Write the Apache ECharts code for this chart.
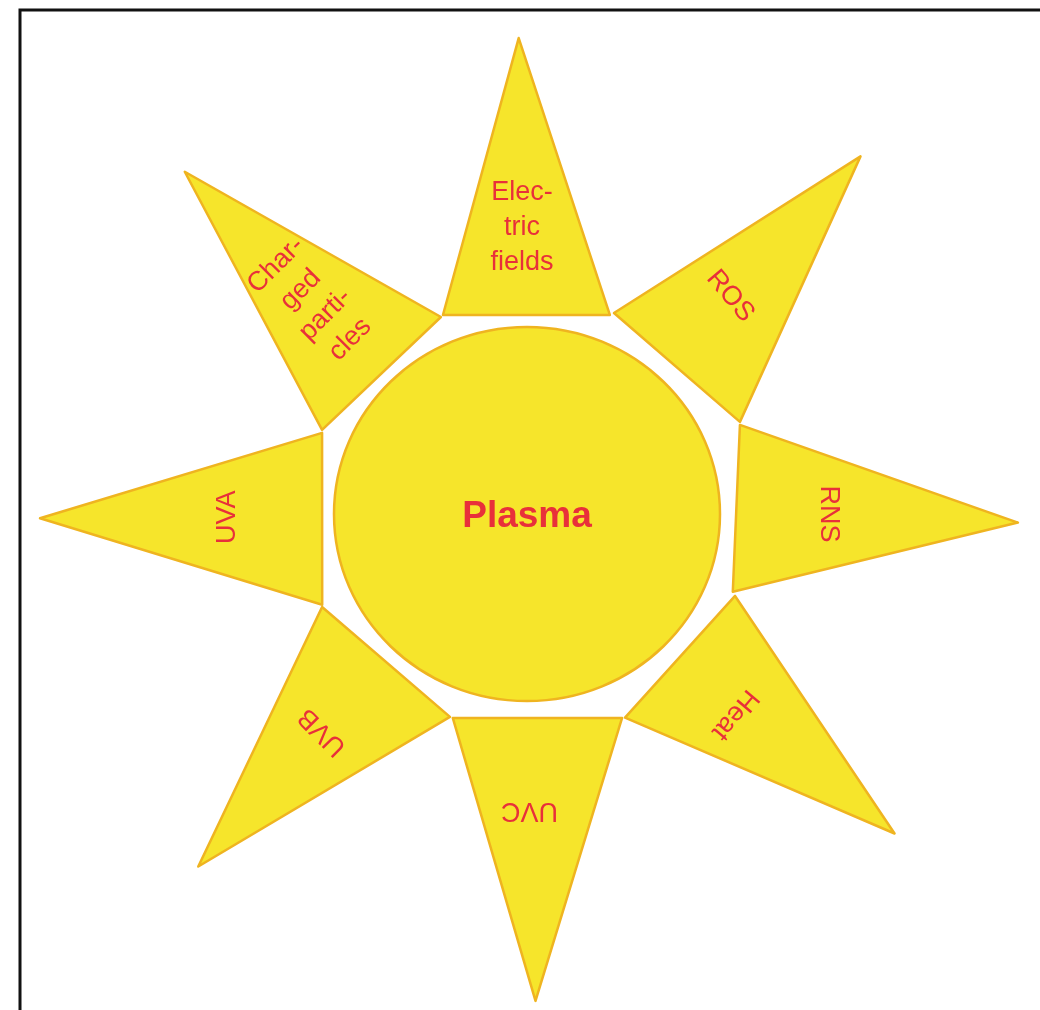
<!DOCTYPE html>
<html>
<head>
<meta charset="utf-8">
<script src="https://cdn.jsdelivr.net/npm/echarts@6/dist/echarts.min.js"></script>
<style>
  html, body { margin: 0; padding: 0; background: #fff; }
  #main { width: 1040px; height: 1010px; }
</style>
</head>
<body>
<div id="main"></div>
<script>
// 每条光芒的文字
const rayNames = ['Elec-\ntric\nfields', 'ROS', 'RNS', 'Heat', 'UVC', 'UVB', 'UVA', 'Char-\nged\nparti-\ncles']
// 尖端（角度，半径）
const tipAngles = [91, 47, 359, 319, 271, 227, 180.5, 135]
const tipRadii = [476, 489, 491, 487, 487, 482, 487, 484]
// 底边两个角
const baseAnglesA = [67.4, 23.4, 339.3, 295.7, 250, 204.4, 158.4, 113.6]
const baseRadiiA = [215.6, 232, 220, 226, 217, 225, 220.4, 215]
const baseAnglesB = [112.9, 66.6, 22.7, 338.5, 295, 249.2, 203.9, 157.7]
const baseRadiiB = [216, 219, 230.8, 223.6, 225, 217, 224, 221.5]
// 文字位置
const labelAngles = [91, 47, 0, 316, 270.5, 226.8, 180.6, 135.3]
const labelRadii = [286, 298, 301, 289, 296, 299, 299, 301]
const labelRotations = [0, -50, -90, -130, 180, 135, 90, 45]
// 中心圆
const centerName = 'Plasma'
const centerRadiusX = [193]
const centerRadiusY = [187]

const FILL = '#f6e52b'
const EDGE = '#efb420'
const RED = '#e8303a'
const FONT = '"Liberation Sans", Arial, Helvetica, sans-serif'

const chart = echarts.init(document.getElementById('main'), null, { renderer: 'canvas' })

const option = {
  backgroundColor: '#fff',
  animation: false,
  polar: {
    center: [527, 514],
    radius: 500
  },
  angleAxis: {
    type: 'value',
    min: 0,
    max: 360,
    startAngle: 0,
    clockwise: false,
    show: false
  },
  radiusAxis: {
    type: 'value',
    min: 0,
    max: 500,
    show: false
  },
  graphic: [
    {
      type: 'rect',
      shape: { x: 20, y: 10, width: 1100, height: 1100 },
      style: { fill: null, stroke: '#111', lineWidth: 3 },
      z: 100
    }
  ],
  series: [
    {
      // 光芒
      type: 'custom',
      coordinateSystem: 'polar',
      data: rayNames.map((n, i) => [i]),
      renderItem(params, api) {
        const i = api.value(0)
        const tip = api.coord([tipRadii[i], tipAngles[i]])
        const a = api.coord([baseRadiiA[i], baseAnglesA[i]])
        const b = api.coord([baseRadiiB[i], baseAnglesB[i]])
        const lp = api.coord([labelRadii[i], labelAngles[i]])
        return {
          type: 'group',
          children: [
            {
              type: 'polygon',
              shape: { points: [tip, a, b] },
              style: { fill: FILL, stroke: EDGE, lineWidth: 2.5, lineJoin: 'round' }
            },
            {
              type: 'text',
              x: lp[0],
              y: lp[1],
              rotation: labelRotations[i] * Math.PI / 180,
              style: {
                text: rayNames[i],
                x: 0,
                y: 0,
                align: 'center',
                verticalAlign: 'middle',
                fill: RED,
                font: '27px ' + FONT,
                lineHeight: 35
              }
            }
          ]
        }
      }
    },
    {
      // 中心圆
      type: 'custom',
      coordinateSystem: 'polar',
      data: [[0]],
      renderItem(params, api) {
        const c = api.coord([0, 0])
        const px = api.coord([centerRadiusX[0], 0])
        const py = api.coord([centerRadiusY[0], 90])
        return {
          type: 'group',
          children: [
            {
              type: 'ellipse',
              shape: { cx: c[0], cy: c[1], rx: px[0] - c[0], ry: c[1] - py[1] },
              style: { fill: FILL, stroke: EDGE, lineWidth: 2.5 }
            },
            {
              type: 'text',
              x: c[0],
              y: c[1] + 3,
              style: {
                text: centerName,
                x: 0,
                y: 0,
                align: 'center',
                verticalAlign: 'middle',
                fill: RED,
                font: 'bold 37px ' + FONT
              }
            }
          ]
        }
      }
    }
  ]
}

chart.setOption(option)
</script>
</body>
</html>
